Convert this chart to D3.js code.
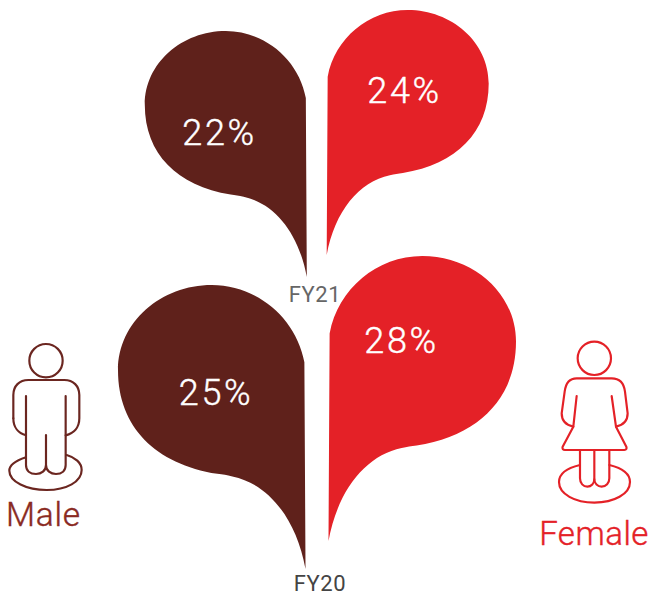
<!DOCTYPE html>
<html><head><meta charset="utf-8">
<script src="https://cdn.jsdelivr.net/npm/d3@7"></script>
<style>html,body{margin:0;padding:0;background:#fff}svg{display:block}text{font-family:Roboto,sans-serif}</style>
</head><body><svg id="c" width="650" height="596"></svg>
<script>
const years = ["FY21", "FY20"];
const genders = ["Male", "Female"];
const maleValues = [22, 25];
const femaleValues = [24, 28];

const svg = d3.select("#c");
const dark = "#5f211b", red = "#e42127";

// Teardrop outline in unit coordinates (u: 0 at inner edge, 1 at outer; v: 0 top, 1 tip)
function drop(p, x, y) {
  const c = (a,b,e,f,g,h)=>p.bezierCurveTo(x(a),y(b),x(e),y(f),x(g),y(h));
  p.moveTo(x(0), y(1));
  p.lineTo(x(.006), y(.272));
  c(.05,.115,.26,0,.5,0);
  c(.77,0,1,.13,1,.3);
  c(1,.5,.8,.63,.47,.665);
  c(.44,.668,.42,.669,.39,.674);
  c(.2,.7,.05,.82,0,1);
  p.closePath();
}
const layout = {
  Male:   {FY21:{tip:[306.8,277], w:-162, top:31,  lx:219.5, ly:145}, FY20:{tip:[305.5,569], w:-187.5, top:285, lx:216, ly:405}},
  Female: {FY21:{tip:[326.7,255], w:162,  top:10,  lx:404.5, ly:103}, FY20:{tip:[328.5,541], w:187.5,  top:256, lx:401.5, ly:353}}
};
const rows = years.flatMap((yr,i)=>[
  {g:"Male", yr, v:maleValues[i], color:dark},
  {g:"Female", yr, v:femaleValues[i], color:red}
]);
rows.forEach(d=>{
  const L = layout[d.g][d.yr];
  const x = d3.scaleLinear([0,1],[L.tip[0],L.tip[0]+L.w]);
  const y = d3.scaleLinear([0,1],[L.top,L.tip[1]]);
  const p = d3.path(); drop(p,x,y);
  svg.append("path").attr("d",p.toString()).attr("fill",d.color);
});
rows.forEach(d=>{
  const L = layout[d.g][d.yr];
  svg.append("text").attr("x",L.lx).attr("y",L.ly).attr("text-anchor","middle")
    .attr("fill","#fff").attr("stroke","#fff").attr("stroke-width",.4)
    .attr("font-size",36).attr("font-weight",300).attr("letter-spacing",2.6).text(d.v+"%");
});
svg.append("text").attr("x",315).attr("y",302).attr("text-anchor","middle").attr("font-size",22).attr("letter-spacing",.6).attr("fill","#666").text(years[0]);
svg.append("text").attr("x",320).attr("y",591).attr("text-anchor","middle").attr("font-size",22).attr("letter-spacing",.6).attr("fill","#444").text(years[1]);

// Icons
const male = svg.append("g").attr("transform","translate(0,330) scale(0.3333)")
  .attr("fill","none").attr("stroke","#6b2620").attr("stroke-width",6.5).attr("stroke-linecap","round");
male.append("circle").attr("cx",138).attr("cy",92).attr("r",50);
[
 "M40 265V195C40 168 58 150 85 150H193C220 150 238 168 238 195V265C238 292 222 310 197 316",
 "M40 265C40 292 55 310 78 316",
 "M78 198V405C78 422 90 432 108 432C124 432 138 422 138 405V315",
 "M197 198V405C197 422 185 432 168 432C152 432 138 422 138 405",
 "M78 382C48 392 28 404 28 422C28 455 80 480 140 480C200 480 245 455 245 420C245 398 225 382 200 375"
].forEach(d=>male.append("path").attr("d",d));
const female = svg.append("g").attr("transform","translate(530,330) scale(0.3333)")
  .attr("fill","none").attr("stroke",red).attr("stroke-width",6.5).attr("stroke-linecap","round").attr("stroke-linejoin","round");
female.append("circle").attr("cx",193).attr("cy",85).attr("r",50);
[
 "M130 290C105 285 95 270 95 250L104 185C107 160 120 145 140 145H245C268 145 282 160 285 185L293 250C293 270 283 285 258 290",
 "M140 198L130 290L98 350C96 356 99 360 105 360H283C289 360 291 356 289 350L258 290L245 198",
 "M150 360V445C150 460 160 470 172 470C184 470 193 460 193 448C193 460 203 470 215 470C228 470 238 460 238 445V360",
 "M193 360V448",
 "M150 405C112 414 87 432 87 456C87 492 135 518 193 518C252 518 300 492 300 456C300 432 275 414 238 405"
].forEach(d=>female.append("path").attr("d",d));
svg.append("text").attr("x",43.5).attr("y",526).attr("text-anchor","middle").attr("font-size",33.5).attr("font-weight",300).attr("stroke","#8a2a22").attr("stroke-width",.4).attr("letter-spacing",.8).attr("fill","#8a2a22").text(genders[0]);
svg.append("text").attr("x",594).attr("y",545).attr("text-anchor","middle").attr("font-size",33).attr("font-weight",300).attr("stroke",red).attr("stroke-width",.4).attr("letter-spacing",.5).attr("fill",red).text(genders[1]);
</script></body></html>
